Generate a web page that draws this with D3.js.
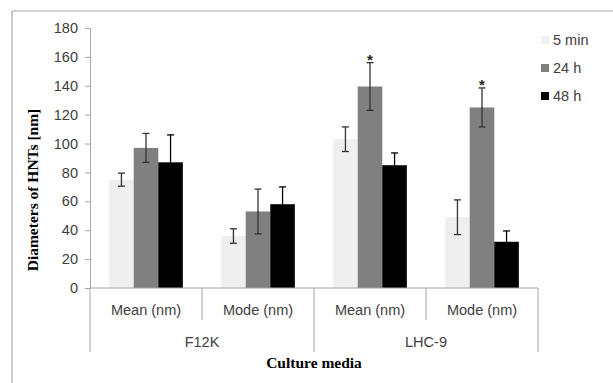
<!DOCTYPE html>
<html>
<head>
<meta charset="utf-8">
<script src="https://cdn.jsdelivr.net/npm/d3@7"></script>
<style>
  body { margin: 0; background: #fff; }
  svg { display: block; }
</style>
</head>
<body>
<svg id="chart" width="613" height="383"></svg>
<script>
// chart values
const groups = ['F12K', 'LHC-9'];
const categories = ['Mean (nm)', 'Mode (nm)', 'Mean (nm)', 'Mode (nm)'];
const categoryGroup = ['F12K', 'F12K', 'LHC-9', 'LHC-9'];
const seriesNames = ['5 min', '24 h', '48 h'];
const values5min = [75, 36, 103, 49];
const values24h = [97, 53, 139.5, 125];
const values48h = [87, 58, 85, 32];
const err5min = [4.5, 5, 8.5, 12];
const err24h = [10, 15.5, 16.5, 13.5];
const err48h = [19, 12, 8.5, 7.5];
const stars24h = [false, false, true, true];
const yTicks = [0, 20, 40, 60, 80, 100, 120, 140, 160, 180];

const colors = ['#efefef', '#808080', '#000000'];
const errColors = ['#333333', '#333333', '#000000'];

const svg = d3.select('svg#chart');
const sans = '"Liberation Sans", Arial, sans-serif';
const serif = '"Liberation Serif", "Times New Roman", serif';
const labelSize = '14.5px';

const plotLeft = 90;
const plotRight = 538;
const plotTop = 28;
const plotBottom = 288;

// outer frame (top and left edges only visible)
svg.append('line').attr('x1', 12).attr('y1', 11).attr('x2', 613).attr('y2', 11)
  .attr('stroke', '#a6a6a6').attr('stroke-width', 1.2);
svg.append('line').attr('x1', 12).attr('y1', 11).attr('x2', 12).attr('y2', 383)
  .attr('stroke', '#a6a6a6').attr('stroke-width', 1.2);

const x = d3.scaleBand()
  .domain(d3.range(categories.length))
  .range([plotLeft, plotRight])
  .padding(0);

const xInner = d3.scaleBand()
  .domain(seriesNames)
  .range([0, x.bandwidth()])
  .paddingInner(0)
  .paddingOuter(0.78);

const y = d3.scaleLinear().domain([0, 180]).range([plotBottom, plotTop]);

// y axis
const yAxis = svg.append('g')
  .attr('transform', `translate(${plotLeft},0)`)
  .call(d3.axisLeft(y).tickValues(yTicks).tickSize(5).tickPadding(7));
yAxis.select('.domain').attr('stroke', '#a6a6a6');
yAxis.selectAll('.tick line').attr('stroke', '#a6a6a6');
yAxis.selectAll('.tick text')
  .attr('font-family', sans)
  .attr('font-size', labelSize)
  .attr('fill', '#404040');

// bars and error bars
const allValues = [values5min, values24h, values48h];
const allErrors = [err5min, err24h, err48h];

seriesNames.forEach((name, s) => {
  const rows = categories.map((c, i) => ({ i, v: allValues[s][i], e: allErrors[s][i] }));

  svg.append('g')
    .selectAll('rect')
    .data(rows)
    .enter()
    .append('rect')
    .attr('x', (d) => x(d.i) + xInner(name))
    .attr('width', xInner.bandwidth())
    .attr('y', (d) => y(d.v))
    .attr('height', (d) => y(0) - y(d.v))
    .attr('fill', colors[s]);

  const eg = svg.append('g')
    .attr('stroke', errColors[s])
    .attr('stroke-width', 1.3);
  const cx = (d) => x(d.i) + xInner(name) + xInner.bandwidth() / 2;
  eg.selectAll('line.v').data(rows).enter().append('line')
    .attr('x1', cx).attr('x2', cx)
    .attr('y1', (d) => y(d.v + d.e)).attr('y2', (d) => y(d.v - d.e));
  eg.selectAll('line.t').data(rows).enter().append('line')
    .attr('x1', (d) => cx(d) - 3.5).attr('x2', (d) => cx(d) + 3.5)
    .attr('y1', (d) => y(d.v + d.e)).attr('y2', (d) => y(d.v + d.e));
  eg.selectAll('line.b').data(rows).enter().append('line')
    .attr('x1', (d) => cx(d) - 3.5).attr('x2', (d) => cx(d) + 3.5)
    .attr('y1', (d) => y(d.v - d.e)).attr('y2', (d) => y(d.v - d.e));
});

// significance stars on the 24 h bars
svg.append('g')
  .selectAll('text')
  .data(categories.map((c, i) => i).filter((i) => stars24h[i]))
  .enter()
  .append('text')
  .attr('x', (i) => x(i) + xInner('24 h') + xInner.bandwidth() / 2)
  .attr('y', (i) => y(values24h[i] + err24h[i]) - 9)
  .attr('dy', '0.75em')
  .attr('text-anchor', 'middle')
  .attr('font-family', sans)
  .attr('font-weight', 'bold')
  .attr('font-size', '15px')
  .attr('fill', '#222')
  .text('*');

// multi-level x axis
svg.append('line')
  .attr('x1', plotLeft).attr('x2', plotRight).attr('y1', plotBottom).attr('y2', plotBottom)
  .attr('stroke', '#a6a6a6');

const boundaries = d3.range(categories.length + 1);
svg.append('g')
  .selectAll('line')
  .data(boundaries)
  .enter()
  .append('line')
  .attr('x1', (i) => (i < categories.length ? x(i) : plotRight))
  .attr('x2', (i) => (i < categories.length ? x(i) : plotRight))
  .attr('y1', plotBottom)
  .attr('y2', (i) => (i === 0 || i === categories.length
    || categoryGroup[i] !== categoryGroup[i - 1] ? 352 : 320))
  .attr('stroke', '#a6a6a6');

svg.append('g')
  .selectAll('text')
  .data(categories)
  .enter()
  .append('text')
  .attr('x', (d, i) => x(i) + x.bandwidth() / 2)
  .attr('y', 315)
  .attr('text-anchor', 'middle')
  .attr('font-family', sans)
  .attr('font-size', labelSize)
  .attr('fill', '#404040')
  .text((d) => d);

svg.append('g')
  .selectAll('text')
  .data(groups)
  .enter()
  .append('text')
  .attr('x', (g) => {
    const idx = categories.map((c, i) => i).filter((i) => categoryGroup[i] === g);
    return (x(idx[0]) + x(idx[idx.length - 1]) + x.bandwidth()) / 2;
  })
  .attr('y', 347)
  .attr('text-anchor', 'middle')
  .attr('font-family', sans)
  .attr('font-size', labelSize)
  .attr('fill', '#404040')
  .text((d) => d);

// axis titles
svg.append('text')
  .attr('x', 314)
  .attr('y', 368)
  .attr('text-anchor', 'middle')
  .attr('font-family', serif)
  .attr('font-weight', 'bold')
  .attr('font-size', '15.5px')
  .attr('fill', '#000')
  .text('Culture  media');

svg.append('text')
  .attr('transform', 'translate(38,190) rotate(-90)')
  .attr('text-anchor', 'middle')
  .attr('font-family', serif)
  .attr('font-weight', 'bold')
  .attr('font-size', '15.5px')
  .attr('fill', '#000')
  .text('Diameters of HNTs [nm]');

// legend
const legend = svg.append('g')
  .selectAll('g')
  .data(seriesNames)
  .enter()
  .append('g')
  .attr('transform', (d, i) => `translate(541,${40 + i * 28})`);
legend.append('rect')
  .attr('x', 0).attr('y', -4).attr('width', 8).attr('height', 8)
  .attr('fill', (d, i) => colors[i]);
legend.append('text')
  .attr('x', 12)
  .attr('y', 0)
  .attr('dy', '0.35em')
  .attr('font-family', sans)
  .attr('font-size', labelSize)
  .attr('fill', '#404040')
  .text((d) => d);
</script>
</body>
</html>
